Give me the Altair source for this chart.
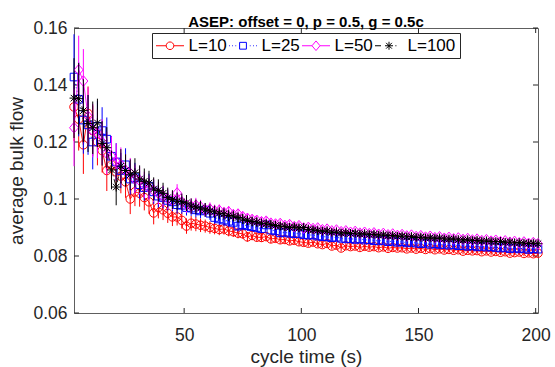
import altair as alt
import pandas as pd

series_names = ["L=10", "L=25", "L=50", "L=100"]
series_colors = ["#FF0000", "#0000FF", "#FF00FF", "#000000"]

cycle_time = [
    3, 5, 7, 9, 11, 13, 15, 17, 19, 21,
    23, 25, 27, 29, 31, 33, 35, 37, 39, 41,
    43, 45, 47, 49, 51, 53, 55, 57, 59, 61,
    63, 65, 67, 69, 71, 73, 75, 77, 79, 81,
    83, 85, 87, 89, 91, 93, 95, 97, 99, 101,
    103, 105, 107, 109, 111, 113, 115, 117, 119, 121,
    123, 125, 127, 129, 131, 133, 135, 137, 139, 141,
    143, 145, 147, 149, 151, 153, 155, 157, 159, 161,
    163, 165, 167, 169, 171, 173, 175, 177, 179, 181,
    183, 185, 187, 189, 191, 193, 195, 197, 199, 201,
]

flow_L10 = [
    0.1323, 0.1280, 0.1190, 0.1300, 0.1240, 0.1200, 0.1170, 0.1100, 0.1120, 0.1095,
    0.1080, 0.1060, 0.1000, 0.1025, 0.1020, 0.1005, 0.0990, 0.0951, 0.0970, 0.0962,
    0.0950, 0.0937, 0.0937, 0.0925, 0.0905, 0.0915, 0.0912, 0.0908, 0.0905, 0.0900,
    0.0897, 0.0893, 0.0895, 0.0888, 0.0885, 0.0880, 0.0878, 0.0867, 0.0872, 0.0866,
    0.0865, 0.0868, 0.0860, 0.0862, 0.0857, 0.0858, 0.0853, 0.0855, 0.0850, 0.0848,
    0.0845, 0.0849, 0.0843, 0.0840, 0.0844, 0.0835, 0.0838, 0.0828, 0.0836, 0.0833,
    0.0835, 0.0830, 0.0834, 0.0831, 0.0833, 0.0829, 0.0832, 0.0827, 0.0830, 0.0828,
    0.0829, 0.0825, 0.0828, 0.0824, 0.0827, 0.0823, 0.0826, 0.0822, 0.0825, 0.0821,
    0.0823, 0.0820, 0.0822, 0.0817, 0.0820, 0.0818, 0.0819, 0.0815, 0.0818, 0.0814,
    0.0816, 0.0813, 0.0815, 0.0810, 0.0812, 0.0814, 0.0809, 0.0811, 0.0808, 0.0810,
]
flow_L25 = [
    0.1428, 0.1350, 0.1277, 0.1260, 0.1200, 0.1255, 0.1240, 0.1210, 0.1150, 0.1130,
    0.1100, 0.1120, 0.1070, 0.1075, 0.1050, 0.1040, 0.1045, 0.1025, 0.1010, 0.1005,
    0.0995, 0.0990, 0.0980, 0.0978, 0.0970, 0.0968, 0.0962, 0.0958, 0.0961, 0.0950,
    0.0935, 0.0930, 0.0926, 0.0922, 0.0918, 0.0905, 0.0910, 0.0906, 0.0903, 0.0900,
    0.0896, 0.0909, 0.0891, 0.0888, 0.0881, 0.0883, 0.0880, 0.0878, 0.0879, 0.0875,
    0.0873, 0.0874, 0.0870, 0.0868, 0.0867, 0.0864, 0.0866, 0.0862, 0.0860, 0.0861,
    0.0858, 0.0860, 0.0856, 0.0857, 0.0854, 0.0853, 0.0855, 0.0850, 0.0852, 0.0848,
    0.0850, 0.0846, 0.0848, 0.0845, 0.0843, 0.0845, 0.0841, 0.0843, 0.0839, 0.0841,
    0.0838, 0.0840, 0.0836, 0.0837, 0.0834, 0.0836, 0.0832, 0.0834, 0.0831, 0.0832,
    0.0830, 0.0828, 0.0830, 0.0826, 0.0828, 0.0825, 0.0827, 0.0823, 0.0826, 0.0824,
]
flow_L50 = [
    0.1250, 0.1453, 0.1414, 0.1290, 0.1240, 0.1230, 0.1200, 0.1160, 0.1150, 0.1130,
    0.1120, 0.1100, 0.1090, 0.1070, 0.1065, 0.1050, 0.1040, 0.1030, 0.1020, 0.1010,
    0.1000, 0.0995, 0.1021, 0.0990, 0.0980, 0.0975, 0.0978, 0.0972, 0.0962, 0.0965,
    0.0958, 0.0960, 0.0952, 0.0955, 0.0945, 0.0947, 0.0938, 0.0932, 0.0928, 0.0925,
    0.0920, 0.0922, 0.0915, 0.0912, 0.0914, 0.0907, 0.0910, 0.0903, 0.0906, 0.0898,
    0.0900, 0.0896, 0.0898, 0.0892, 0.0894, 0.0888, 0.0891, 0.0885, 0.0888, 0.0883,
    0.0886, 0.0880, 0.0883, 0.0878, 0.0881, 0.0876, 0.0879, 0.0874, 0.0877, 0.0872,
    0.0875, 0.0870, 0.0873, 0.0868, 0.0871, 0.0866, 0.0869, 0.0864, 0.0867, 0.0862,
    0.0865, 0.0860, 0.0863, 0.0858, 0.0861, 0.0856, 0.0859, 0.0854, 0.0857, 0.0852,
    0.0855, 0.0850, 0.0853, 0.0848, 0.0851, 0.0846, 0.0849, 0.0844, 0.0847, 0.0843,
]
flow_L100 = [
    0.1354, 0.1352, 0.1310, 0.1265, 0.1250, 0.1267, 0.1195, 0.1180, 0.1102, 0.1042,
    0.1115, 0.1100, 0.1085, 0.1092, 0.1070, 0.1062, 0.1056, 0.1035, 0.1030, 0.1020,
    0.1005, 0.0998, 0.0992, 0.0990, 0.0986, 0.0975, 0.0972, 0.0968, 0.0962, 0.0958,
    0.0955, 0.0950, 0.0948, 0.0942, 0.0940, 0.0935, 0.0930, 0.0925, 0.0921, 0.0919,
    0.0915, 0.0913, 0.0910, 0.0907, 0.0905, 0.0903, 0.0900, 0.0902, 0.0898, 0.0900,
    0.0893, 0.0892, 0.0889, 0.0887, 0.0888, 0.0883, 0.0884, 0.0880, 0.0882, 0.0879,
    0.0880, 0.0877, 0.0878, 0.0875, 0.0876, 0.0873, 0.0874, 0.0871, 0.0872, 0.0869,
    0.0870, 0.0867, 0.0868, 0.0865, 0.0866, 0.0863, 0.0864, 0.0862, 0.0863, 0.0860,
    0.0859, 0.0860, 0.0857, 0.0856, 0.0857, 0.0854, 0.0855, 0.0852, 0.0853, 0.0851,
    0.0850, 0.0851, 0.0848, 0.0849, 0.0846, 0.0847, 0.0845, 0.0844, 0.0845, 0.0843,
]

err_L10 = [
    0.0120, 0.0110, 0.0102, 0.0095, 0.0088, 0.0082, 0.0077, 0.0072, 0.0067, 0.0063,
    0.0060, 0.0056, 0.0053, 0.0050, 0.0047, 0.0045, 0.0042, 0.0040, 0.0038, 0.0036,
    0.0034, 0.0032, 0.0030, 0.0029, 0.0027, 0.0026, 0.0025, 0.0024, 0.0023, 0.0022,
    0.0021, 0.0020, 0.0020, 0.0019, 0.0018, 0.0018, 0.0017, 0.0017, 0.0016, 0.0016,
    0.0015, 0.0015, 0.0015, 0.0014, 0.0014, 0.0014, 0.0013, 0.0013, 0.0013, 0.0013,
    0.0012, 0.0012, 0.0012, 0.0012, 0.0012, 0.0012, 0.0012, 0.0012, 0.0012, 0.0012,
    0.0012, 0.0012, 0.0012, 0.0012, 0.0012, 0.0011, 0.0011, 0.0011, 0.0011, 0.0011,
    0.0011, 0.0011, 0.0011, 0.0011, 0.0011, 0.0011, 0.0011, 0.0011, 0.0011, 0.0011,
    0.0010, 0.0010, 0.0010, 0.0010, 0.0010, 0.0010, 0.0010, 0.0010, 0.0010, 0.0010,
    0.0010, 0.0010, 0.0010, 0.0010, 0.0010, 0.0010, 0.0010, 0.0010, 0.0010, 0.0010,
]
err_L25 = [
    0.0150, 0.0130, 0.0118, 0.0105, 0.0096, 0.0089, 0.0082, 0.0076, 0.0071, 0.0066,
    0.0062, 0.0058, 0.0055, 0.0052, 0.0049, 0.0046, 0.0044, 0.0042, 0.0040, 0.0038,
    0.0035, 0.0033, 0.0031, 0.0030, 0.0028, 0.0027, 0.0026, 0.0025, 0.0024, 0.0023,
    0.0022, 0.0021, 0.0021, 0.0020, 0.0019, 0.0019, 0.0018, 0.0018, 0.0017, 0.0017,
    0.0016, 0.0016, 0.0015, 0.0015, 0.0015, 0.0014, 0.0014, 0.0014, 0.0013, 0.0013,
    0.0013, 0.0013, 0.0012, 0.0012, 0.0012, 0.0012, 0.0012, 0.0012, 0.0012, 0.0012,
    0.0012, 0.0012, 0.0012, 0.0012, 0.0012, 0.0011, 0.0011, 0.0011, 0.0011, 0.0011,
    0.0011, 0.0011, 0.0011, 0.0011, 0.0011, 0.0011, 0.0011, 0.0011, 0.0011, 0.0011,
    0.0010, 0.0010, 0.0010, 0.0010, 0.0010, 0.0010, 0.0010, 0.0010, 0.0010, 0.0010,
    0.0010, 0.0010, 0.0010, 0.0010, 0.0010, 0.0010, 0.0010, 0.0010, 0.0010, 0.0010,
]
err_L50 = [
    0.0135, 0.0120, 0.0112, 0.0102, 0.0094, 0.0087, 0.0080, 0.0075, 0.0070, 0.0065,
    0.0061, 0.0057, 0.0054, 0.0051, 0.0048, 0.0046, 0.0043, 0.0041, 0.0039, 0.0037,
    0.0035, 0.0033, 0.0031, 0.0029, 0.0028, 0.0027, 0.0026, 0.0025, 0.0024, 0.0023,
    0.0022, 0.0021, 0.0020, 0.0020, 0.0019, 0.0018, 0.0018, 0.0017, 0.0017, 0.0016,
    0.0016, 0.0015, 0.0015, 0.0015, 0.0014, 0.0014, 0.0014, 0.0013, 0.0013, 0.0013,
    0.0013, 0.0012, 0.0012, 0.0012, 0.0012, 0.0012, 0.0012, 0.0012, 0.0012, 0.0012,
    0.0012, 0.0012, 0.0012, 0.0012, 0.0012, 0.0011, 0.0011, 0.0011, 0.0011, 0.0011,
    0.0011, 0.0011, 0.0011, 0.0011, 0.0011, 0.0011, 0.0011, 0.0011, 0.0011, 0.0011,
    0.0010, 0.0010, 0.0010, 0.0010, 0.0010, 0.0010, 0.0010, 0.0010, 0.0010, 0.0010,
    0.0010, 0.0010, 0.0010, 0.0010, 0.0010, 0.0010, 0.0010, 0.0010, 0.0010, 0.0010,
]
err_L100 = [
    0.0140, 0.0125, 0.0110, 0.0100, 0.0092, 0.0085, 0.0078, 0.0072, 0.0068, 0.0064,
    0.0060, 0.0057, 0.0054, 0.0051, 0.0048, 0.0045, 0.0043, 0.0041, 0.0039, 0.0037,
    0.0035, 0.0033, 0.0031, 0.0029, 0.0028, 0.0027, 0.0026, 0.0025, 0.0024, 0.0023,
    0.0022, 0.0021, 0.0020, 0.0020, 0.0019, 0.0018, 0.0018, 0.0017, 0.0017, 0.0016,
    0.0016, 0.0015, 0.0015, 0.0015, 0.0014, 0.0014, 0.0014, 0.0013, 0.0013, 0.0013,
    0.0013, 0.0012, 0.0012, 0.0012, 0.0012, 0.0012, 0.0012, 0.0012, 0.0012, 0.0012,
    0.0012, 0.0012, 0.0012, 0.0012, 0.0012, 0.0011, 0.0011, 0.0011, 0.0011, 0.0011,
    0.0011, 0.0011, 0.0011, 0.0011, 0.0011, 0.0011, 0.0011, 0.0011, 0.0011, 0.0011,
    0.0010, 0.0010, 0.0010, 0.0010, 0.0010, 0.0010, 0.0010, 0.0010, 0.0010, 0.0010,
    0.0010, 0.0010, 0.0010, 0.0010, 0.0010, 0.0010, 0.0010, 0.0010, 0.0010, 0.0010,
]

x_ticks = [50, 100, 150, 200]
y_ticks = [0.06, 0.08, 0.1, 0.12, 0.14, 0.16]
x_domain = [3, 201]
y_domain = [0.06, 0.16]

# ---- build tables ----
flows = [flow_L10, flow_L25, flow_L50, flow_L100]
errs = [err_L10, err_L25, err_L50, err_L100]
rows = []
for name, fl, er in zip(series_names, flows, errs):
    for t, v, e in zip(cycle_time, fl, er):
        rows.append({"series": name, "t": t, "v": v, "lo": v - e, "hi": v + e})
df = pd.DataFrame(rows)

W, H = 464, 285
tick_px = 5
dx = tick_px * (x_domain[1] - x_domain[0]) / W
dy = tick_px * (y_domain[1] - y_domain[0]) / H
tick_rows = []
for t in x_ticks:
    tick_rows.append({"x": t, "x2": t, "y": y_domain[0], "y2": y_domain[0] + dy})
    tick_rows.append({"x": t, "x2": t, "y": y_domain[1], "y2": y_domain[1] - dy})
for t in y_ticks:
    tick_rows.append({"x": x_domain[0], "x2": x_domain[0] + dx, "y": t, "y2": t})
    tick_rows.append({"x": x_domain[1], "x2": x_domain[1] - dx, "y": t, "y2": t})
df_ticks = pd.DataFrame(tick_rows)

# marker shapes (unit square coordinates)
P_CIRCLE = "M0.95,0A0.95,0.95 0 1,1 -0.95,0A0.95,0.95 0 1,1 0.95,0Z"
P_SQUARE = "M-0.85,-0.85L0.85,-0.85L0.85,0.85L-0.85,0.85Z"
P_DIAMOND = "M0,-1.2L1.0,0L0,1.2L-1.0,0Z"
P_STAR = "M-1,0L1,0M0,-1L0,1M-0.72,-0.72L0.72,0.72M-0.72,0.72L0.72,-0.72"
marker_paths = [P_CIRCLE, P_SQUARE, P_DIAMOND, P_STAR]

# legend symbols: line-style sample + marker
legend_paths = [
    "M-3.5,0L-0.95,0M0.95,0L3.5,0" + P_CIRCLE,
    "M-3.5,0L-3.3,0M-2.7,0L-2.5,0M-1.9,0L-1.7,0M1.7,0L1.9,0M2.5,0L2.7,0M3.3,0L3.5,0" + P_SQUARE,
    "M-3.5,0L-1.0,0M1.0,0L3.5,0" + P_DIAMOND,
    "M-3.5,0L-2.0,0M1.6,0L1.85,0" + P_STAR,
]

dashes = [None, [1, 2.5], None, [6, 3, 1, 3]]

xs = alt.Scale(domain=x_domain, nice=False, zero=False)
ys = alt.Scale(domain=y_domain, nice=False, zero=False)
x_axis = alt.Axis(values=x_ticks, title="cycle time (s)", format="d")
y_axis = alt.Axis(values=y_ticks, title="average bulk flow", format=".2~f")

legend = alt.Legend(
    orient="none", legendX=78, legendY=5, direction="horizontal", title=None,
    fillColor="white", strokeColor="#262626", padding=4,
    symbolSize=64, symbolStrokeWidth=1, symbolOffset=5.5, symbolFillColor="transparent",
    symbolOpacity=1,
    labelOffset=10, labelFontSize=17, labelFont="Liberation Sans", labelColor="#000000",
    columnPadding=0,
)

ticks_layer = alt.Chart(df_ticks).mark_rule(color="#262626", strokeWidth=1).encode(
    x=alt.X("x:Q", scale=xs, axis=x_axis),
    x2="x2:Q",
    y=alt.Y("y:Q", scale=ys, axis=y_axis),
    y2="y2:Q",
)

layers = [ticks_layer]
base = alt.Chart(df)
for i, name in enumerate(series_names):
    sub = base.transform_filter(alt.datum.series == name)
    xe = alt.X("t:Q", scale=xs, axis=x_axis)
    ye = alt.Y("v:Q", scale=ys, axis=y_axis)
    col = series_colors[i]
    err = sub.mark_rule(strokeWidth=1, color=col).encode(
        x=xe, y=alt.Y("lo:Q", scale=ys, axis=y_axis), y2="hi:Q"
    )
    line_kwargs = {"strokeWidth": 0.9, "color": col}
    if dashes[i] is not None:
        line_kwargs["strokeDash"] = dashes[i]
    line = sub.mark_line(**line_kwargs).encode(x=xe, y=ye)
    pts = sub.mark_point(
        filled=False, size=80, strokeWidth=1, opacity=1, color=col, shape=marker_paths[i]
    ).encode(x=xe, y=ye)
    layers += [err, line, pts]

# legend-only layer (no marks drawn; scale domains are explicit)
legend_layer = base.transform_filter("false").mark_point(filled=False).encode(
    x=alt.X("t:Q", scale=xs, axis=x_axis),
    y=alt.Y("v:Q", scale=ys, axis=y_axis),
    color=alt.Color("series:N", scale=alt.Scale(domain=series_names, range=series_colors), legend=legend),
    shape=alt.Shape("series:N", scale=alt.Scale(domain=series_names, range=legend_paths), legend=legend),
)
layers.append(legend_layer)

chart = alt.layer(*layers).properties(
    width=W, height=H,
    title=alt.TitleParams(
        text="ASEP: offset = 0, p = 0.5, g = 0.5c", fontSize=15, fontWeight="bold",
        font="Liberation Sans", color="#000000", anchor="middle", offset=0, dy=23,
        baseline="alphabetic",
    ),
    autosize=alt.AutoSizeParams(type="none"),
    padding={"left": 74, "top": 28, "right": 17, "bottom": 54},
).configure_view(
    stroke="#5e5e5e", strokeWidth=1
).configure_axis(
    labelFont="Liberation Sans", labelFontSize=17.5, labelColor="#262626",
    titleFont="Liberation Sans", titleFontSize=19, titleFontWeight="normal", titleColor="#262626",
    domain=False, ticks=False, tickSize=0, grid=False,
).configure_axisX(
    labelPadding=13, titlePadding=4
).configure_axisY(
    labelPadding=7, titlePadding=6
)

chart.save("out.html", embed_options={"renderer": "svg", "actions": False})
